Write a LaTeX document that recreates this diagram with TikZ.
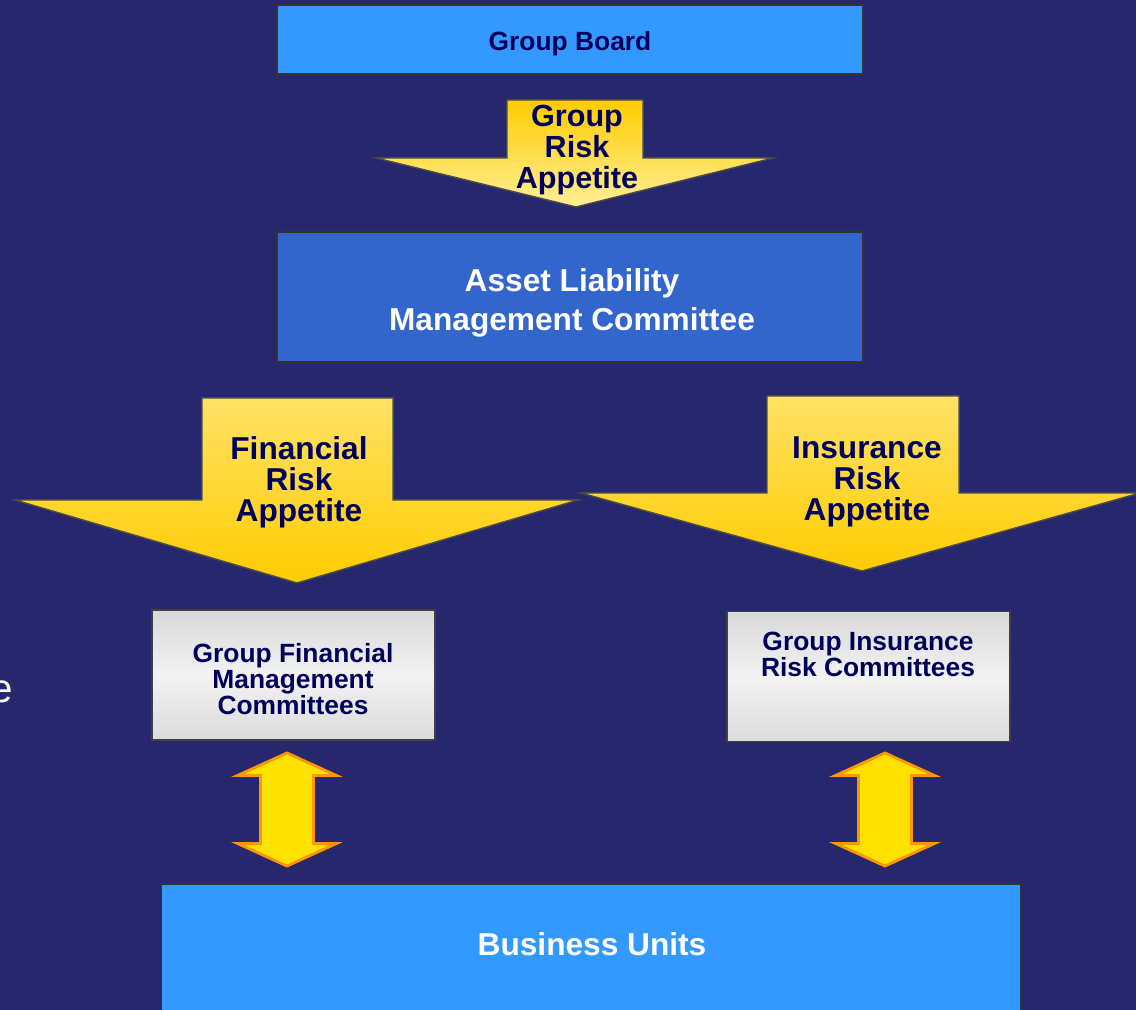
\documentclass[tikz,border=0pt]{standalone}
\usepackage{fontspec}
\setmainfont{Liberation Sans}
\usetikzlibrary{positioning, shapes.arrows}
\definecolor{bgnavy}{RGB}{39,39,110}
\definecolor{boardblue}{RGB}{51,153,255}
\definecolor{almblue}{RGB}{51,102,204}
\definecolor{txtnavy}{RGB}{0,0,90}
\definecolor{apgold}{RGB}{255,204,0}
\definecolor{aplight}{RGB}{255,226,102}
\definecolor{appale}{RGB}{255,238,150}
\definecolor{dblyellow}{RGB}{255,225,0}
\definecolor{dblorange}{RGB}{255,150,0}
\tikzset{
	bluebox/.style={draw=black!80, line width=0.4pt, inner sep=0pt},
	graybox/.style={draw=black!75, line width=0.4pt, top color=black!15, bottom color=black!14, middle color=black!5, minimum width=2.83cm, minimum height=1.30cm},
	appbody/.style={draw=black!70, line width=0.4pt},
	apptext/.style={text=txtnavy, align=center, font=\bfseries\fontsize{9}{8.8}\selectfont},
	comtext/.style={text=txtnavy, align=center, font=\bfseries\fontsize{7.5}{7.4}\selectfont, inner sep=0pt},
	dblarrow/.style={double arrow, rotate=90, fill=dblyellow, draw=dblorange, line width=0.8pt, inner sep=0pt, text height=0.25cm, text depth=0.25cm, minimum height=1.13cm, double arrow head extend=0.23cm, double arrow tip angle=131}
}

\begin{document}
\begin{tikzpicture}[x=0.01cm, y=-0.01cm]
	\useasboundingbox (0,0) rectangle (1136,1010);
	\fill[bgnavy] (0,0) rectangle (1136,1010);

	% cut-off text on the left
	\node[anchor=base east, inner sep=0pt, text=white, font=\fontsize{11.5}{12}\selectfont] (cut) at (14,703) {e};

	% boxes
	\node[bluebox, fill=boardblue, minimum width=5.86cm, minimum height=0.69cm] (board) at (570,39.5) {};
	\node[bluebox, fill=almblue, minimum width=5.86cm, minimum height=1.30cm] (alm) at (570,297) {};
	\node[graybox] (gfmc) at (293.5,675) {};
	\node[graybox] (girc) at (868.5,676.5) {};
	\node[bluebox, fill=boardblue, minimum width=8.58cm, minimum height=1.60cm] (bu) at (591,964) {};

	\node[text=txtnavy, font=\bfseries\fontsize{7.5}{9}\selectfont] (boardtext) at (570,44) {Group Board};
	\node[text=white, align=center, font=\bfseries\fontsize{9}{11.1}\selectfont] (almtext) at (572,303) {Asset Liability\\Management Committee};
	\node[comtext] (gfmctext) at (293,679) {Group Financial\\Management\\Committees};
	\node[comtext] (girctext) at (868,654) {Group Insurance\\Risk Committees};
	\node[text=white, font=\bfseries\fontsize{9}{11}\selectfont] (butext) at (592,944) {Business Units};

	% appetite arrows
	\shade[appbody, top color=apgold, bottom color=appale]
		(507,100) -- (643,100) -- (643,158) -- (773,158) -- (576,207) -- (376,158) -- (507,158) -- cycle;
	\shade[appbody, top color=aplight, bottom color=apgold]
		(202,398) -- (393,398) -- (393,500) -- (578,500) -- (297,583) -- (15,500) -- (202,500) -- cycle;
	\shade[appbody, top color=aplight, bottom color=apgold]
		(767,396) -- (959,396) -- (959,493) -- (1140,493) -- (862,571) -- (581,493) -- (767,493) -- cycle;

	\node[apptext, font=\bfseries\fontsize{8.7}{8.7}\selectfont] (grpapp) at (577,150) {Group\\Risk\\Appetite};
	\node[apptext] (finapp) at (299,482) {Financial\\Risk\\Appetite};
	\node[apptext] (insapp) at (867,482) {Insurance\\Risk\\Appetite};

	% two-way arrows to the business units
	\node[dblarrow] (findbl) at (287,809.5) {};
	\node[dblarrow] (insdbl) at (885,809.5) {};
\end{tikzpicture}
\end{document}
